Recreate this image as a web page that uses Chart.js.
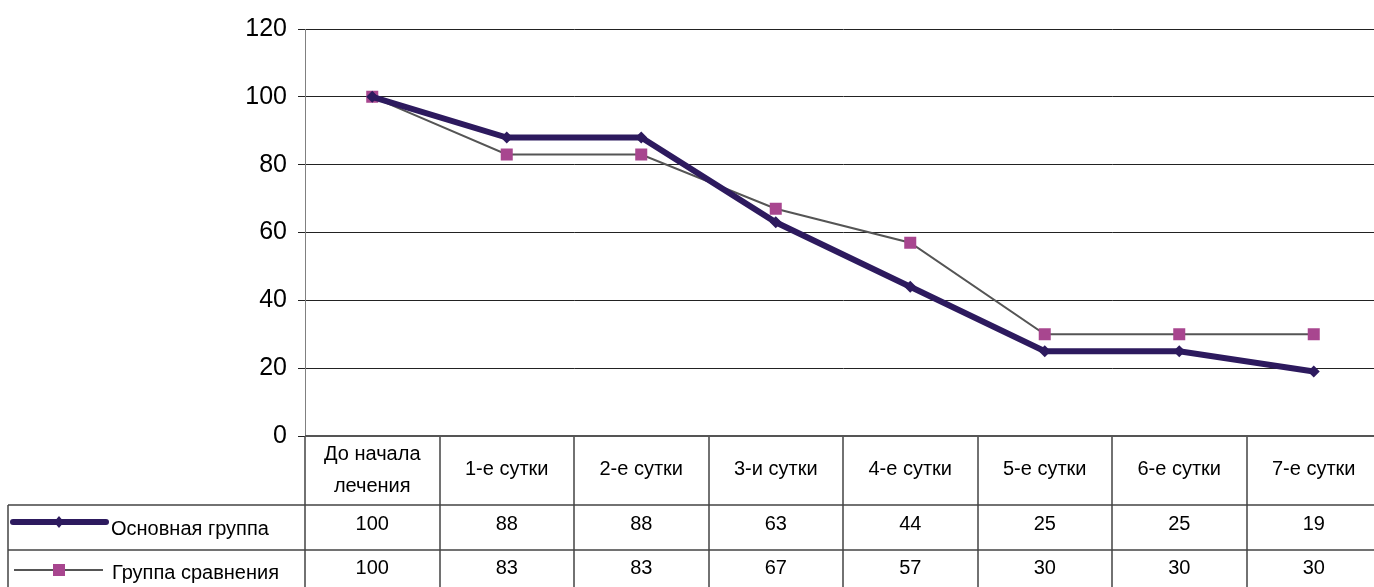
<!DOCTYPE html>
<html>
<head>
<meta charset="utf-8">
<script src="https://cdn.jsdelivr.net/npm/chart.js@4.4.0/dist/chart.umd.min.js"></script>
<style>
  html, body { margin: 0; padding: 0; background: #fff; overflow: hidden; }
  #wrap { width: 1381px; height: 587px; }
</style>
</head>
<body>
<div id="wrap"><canvas id="chart" width="1381" height="587"></canvas></div>
<script>
  // категории и значения
  const categories = [['До начала', 'лечения'], '1-е сутки', '2-е сутки', '3-и сутки', '4-е сутки', '5-е сутки', '6-е сутки', '7-е сутки'];
  const mainGroup = [100, 88, 88, 63, 44, 25, 25, 19];
  const compareGroup = [100, 83, 83, 67, 57, 30, 30, 30];
  const seriesNames = ['Основная группа', 'Группа сравнения'];
  const yTicks = [0, 20, 40, 60, 80, 100, 120];

  const FONT = 'Arial, "Liberation Sans", sans-serif';
  const mainColor = '#2d1a5e';
  const compareLine = '#555555';
  const compareMarker = '#a8468f';
  const tableLine = '#444444';

  // таблица данных под графиком
  const dataTable = {
    id: 'dataTable',
    afterDraw(chart) {
      const ctx = chart.ctx;
      const area = chart.chartArea;
      const x = chart.scales.x;
      const row0 = area.bottom;
      const row1 = 505;
      const row2 = 550;
      const bottom = 587;
      const n = categories.length;
      const half = (x.getPixelForValue(1) - x.getPixelForValue(0)) / 2;

      ctx.save();
      ctx.strokeStyle = tableLine;
      ctx.lineWidth = 1.5;
      ctx.beginPath();
      for (let i = 0; i <= n; i++) {
        const px = Math.round(x.getPixelForValue(i) - half);
        ctx.moveTo(px, row0);
        ctx.lineTo(px, bottom);
      }
      ctx.moveTo(8, row1);
      ctx.lineTo(8, bottom);
      ctx.moveTo(8, row1);
      ctx.lineTo(area.right, row1);
      ctx.moveTo(8, row2);
      ctx.lineTo(area.right, row2);
      ctx.stroke();

      // нижняя граница области построения
      ctx.strokeStyle = '#555';
      ctx.lineWidth = 2;
      ctx.beginPath();
      ctx.moveTo(area.left, row0);
      ctx.lineTo(area.right, row0);
      ctx.stroke();

      ctx.fillStyle = '#000';
      ctx.font = '20px ' + FONT;
      ctx.textAlign = 'center';
      ctx.textBaseline = 'middle';
      categories.forEach((c, i) => {
        const px = x.getPixelForValue(i);
        if (Array.isArray(c)) {
          ctx.fillText(c[0], px, 454);
          ctx.fillText(c[1], px, 486);
        } else {
          ctx.fillText(c, px, 469);
        }
        ctx.fillText(String(mainGroup[i]), px, 524);
        ctx.fillText(String(compareGroup[i]), px, 568);
      });

      // легенда в таблице
      ctx.lineCap = 'round';
      ctx.strokeStyle = mainColor;
      ctx.lineWidth = 6;
      ctx.beginPath();
      ctx.moveTo(13, 522);
      ctx.lineTo(106, 522);
      ctx.stroke();
      ctx.fillStyle = mainColor;
      ctx.beginPath();
      ctx.moveTo(59, 516);
      ctx.lineTo(64, 522);
      ctx.lineTo(59, 528);
      ctx.lineTo(54, 522);
      ctx.closePath();
      ctx.fill();

      ctx.lineCap = 'butt';
      ctx.strokeStyle = compareLine;
      ctx.lineWidth = 2;
      ctx.beginPath();
      ctx.moveTo(14, 570);
      ctx.lineTo(103, 570);
      ctx.stroke();
      ctx.fillStyle = compareMarker;
      ctx.fillRect(53, 564, 12, 12);

      ctx.fillStyle = '#000';
      ctx.textAlign = 'left';
      ctx.fillText(seriesNames[0], 111, 529);
      ctx.fillText(seriesNames[1], 112, 573);
      ctx.restore();
    }
  };

  const chart = new Chart(document.getElementById('chart').getContext('2d'), {
    type: 'line',
    data: {
      labels: categories,
      datasets: [
        {
          label: seriesNames[0],
          data: mainGroup,
          borderColor: mainColor,
          backgroundColor: mainColor,
          borderWidth: 6,
          pointStyle: 'rectRot',
          pointRadius: 6,
          pointBorderWidth: 0,
          tension: 0,
          order: 1
        },
        {
          label: seriesNames[1],
          data: compareGroup,
          borderColor: compareLine,
          backgroundColor: compareMarker,
          pointBorderColor: compareMarker,
          borderWidth: 2,
          pointStyle: 'rect',
          pointRadius: 8.5,
          pointBorderWidth: 0,
          tension: 0,
          order: 2
        }
      ]
    },
    options: {
      responsive: false,
      animation: false,
      layout: { autoPadding: false, padding: { top: 29, bottom: 151, right: 0, left: 0 } },
      plugins: {
        legend: { display: false },
        tooltip: { enabled: false }
      },
      scales: {
        x: {
          display: false,
          offset: true,
          grid: { offset: true }
        },
        y: {
          min: 0,
          max: 120,
          afterFit(scale) { scale.width = 305; },
          afterBuildTicks(scale) { scale.ticks = yTicks.map(v => ({ value: v })); },
          border: { display: true, color: '#808080', width: 1 },
          grid: {
            color: '#222',
            lineWidth: 1,
            drawTicks: true,
            tickLength: 7,
            tickColor: '#222'
          },
          ticks: {
            color: '#000',
            padding: 11,
            font: { family: FONT, size: 25 }
          }
        }
      }
    },
    plugins: [dataTable]
  });
</script>
</body>
</html>
